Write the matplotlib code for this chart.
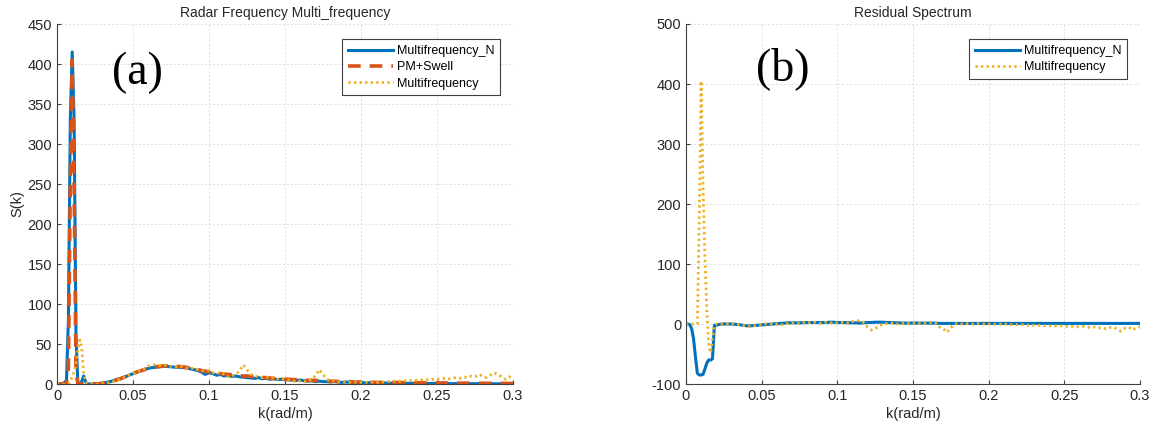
import numpy as np
import matplotlib
matplotlib.use('Agg')
import matplotlib.pyplot as plt

# wavenumber samples: fine around the swell peak, coarser after
k_peak = np.arange(21) * 0.00125          # 0 .. 0.025
k_tail = 0.0275 + np.arange(110) * 0.0025  # 0.0275 .. 0.3

# (a) spectra, peak region
multi_n_peak = [0, 0, 0, 0.5, 2, 5, 80, 330, 415, 330, 60, 0, 0, 3, 10, 3, 0, 0, 0, 0, 0.3]
pm_swell_peak = [0, 0, 0, 0, 0, 2, 20, 250, 405, 250, 15, 0, 0, 0, 0, 0, 0, 0, 0, 0, 0.2]
multi_peak = [0, 0, 0, 0, 0, 0, 0, 3, 10, 15, 25, 45, 55, 45, 15, 3, 0, 0, 0, 0, 0]

# (a) spectra, tail (rows of 10 samples)
multi_n_tail = [
    0.5, 1, 2, 3, 4.5, 6, 7.5, 9, 11, 13,
    15, 16.5, 18, 19.5, 20.5, 21, 21.5, 22, 22, 21.5,
    21, 21, 20.5, 20, 19, 18, 17, 15, 12, 14,
    13, 11, 12, 10, 11, 9.5, 10, 9, 8.5, 8,
    7.5, 7, 8, 6.5, 7, 6, 6.5, 5.5, 6, 5.5,
    5, 5, 4.5, 5, 4, 3.5, 4, 3, 3.5, 3,
    3, 2.5, 3, 2.5, 2, 2.5, 2, 2, 1.5, 2,
    1.5, 1.5, 2, 1.5, 1, 1.5, 1, 1, 1.5, 1,
    1, 0.8, 1, 0.5, 0.8, 1, 0.6, 0.5, 0.8, 0.5,
    0.5, 0.8, 0.5, 0.3, 0.6, 0.5, 0.3, 0.5, 0.4, 0.3,
    0.5, 0.3, 0.4, 0.5, 0.3, 0.2, 0.4, 0.3, 0.3, 0.3,
]
pm_swell_tail = [
    0.3, 0.8, 1.5, 2.5, 4, 5.5, 7, 9, 11, 13,
    15, 16.5, 18, 19.5, 20.5, 21.5, 22, 22.5, 22.5, 22.5,
    22, 22, 21.5, 21, 20, 19, 18, 17, 16, 15,
    14.5, 14, 13, 12.5, 12, 11.5, 11, 10.5, 10, 10,
    9.5, 9, 8.5, 8, 8, 7.5, 7, 7, 6.5, 6,
    6, 5.5, 5.5, 5, 5, 4.5, 4.5, 4.5, 4, 4,
    4, 3.5, 3.5, 3, 3, 3, 3, 2.5, 2.5, 2.5,
    2.5, 2.5, 2, 2, 2, 2, 2, 2, 1.8, 1.8,
    1.8, 1.7, 1.7, 1.6, 1.5, 1.5, 1.5, 1.4, 1.4, 1.3,
    1.3, 1.2, 1.2, 1.2, 1.1, 1.1, 1, 1, 1, 1,
    1, 0.9, 0.9, 0.9, 0.8, 0.8, 0.8, 0.8, 0.7, 0.7,
]
multi_tail = [
    0, 0.5, 1, 2, 3.5, 5, 7, 8.5, 11, 13,
    16, 17, 19, 22, 24, 24, 23, 24, 23, 22,
    22, 21, 22, 20, 19, 20, 18, 17, 16, 17,
    14, 15, 12, 13, 9, 10, 12, 16, 24, 18,
    12, 10, 9, 8, 9, 7, 8, 6, 7, 6,
    5, 4, 3, 4, 3, 3, 6, 10, 18, 12,
    6, 4, 4, 3, 3, 2, 2, 2.5, 2, 2,
    2, 2, 2.5, 2, 2, 2.5, 3, 3, 3.5, 3.5,
    4, 4, 4.5, 4, 5, 5, 5.5, 5, 6, 6,
    6, 7, 6.5, 7, 8, 7, 9, 8, 10, 9,
    12, 10, 8, 11, 14, 12, 9, 6, 9, 7,
]

# (b) residual spectra
res_n_peak = [0, 0, -1, -8, -25, -55, -82, -85, -85, -84, -75, -65, -60, -60, -58, -2, -2, -1, -0.5, 0, 0]
res_multi_peak = [0, 0, 0, 0, 0, 0, 0, 170, 405, 230, 110, 25, -35, -48, -25, -2, 0, 0, 0.5, 0, 0]
res_n_tail = [
    0, 0, -0.5, -1, -2, -3, -3, -2.5, -2, -1.5,
    -1, -0.5, 0, 0.5, 1, 1.5, 2, 2, 2, 2,
    2, 2.5, 2.5, 2.5, 2.5, 2.5, 2.5, 3, 3, 2.5,
    2.5, 2.5, 2, 2, 2, 1.5, 2, 2.5, 2.5, 3,
    3, 3, 2.5, 2.5, 2, 2, 1.5, 1.5, 1.5, 1.5,
    1.5, 1.5, 1.5, 1.5, 1.5, 1.5, 1, 1, 1, 1,
] + [1] * 50
res_multi_tail = [
    0, 1, 0, -1, -2, -3, -4, -3, -2, -1,
    0, 1, -1, 0, -2, 0, 1, 2, 2, 1,
    2, 3, 2, 3, 2, 1, 3, 2, 1, 2,
    3, 2, 1, 4, 6, 5, 2, -5, -10, -8,
    -3, -1, 1, 2, 1, 0, 1, 0, 1, 1,
    2, 1, 1, 2, 3, 2, -5, -8, -14, -6,
    0, 1, 0, 1, 0, 0, 1, 0, 0, 0,
    0, -0.5, 0, -1, 0, -1, -1, -1.5, -1, -2,
    -2, -2, -2.5, -2, -3, -3, -3, -3.5, -3, -4,
    -4, -4, -4.5, -5, -4, -5, -6, -5, -7, -6,
    -8, -6, -5, -9, -12, -7, -5, -10, -6, -5,
]

BLUE = '#0072BD'
ORANGE = '#D95319'
YELLOW = '#EDB120'

plt.rcParams['font.family'] = ['Liberation Sans', 'DejaVu Sans']
plt.rcParams['axes.unicode_minus'] = False

k = np.concatenate([k_peak, k_tail])


def style_axes(ax, ylim, yticks, title):
    ax.set_xlim(0, 0.3)
    ax.set_ylim(*ylim)
    ax.set_xticks([0, 0.05, 0.1, 0.15, 0.2, 0.25, 0.3])
    ax.set_xticklabels(['0', '0.05', '0.1', '0.15', '0.2', '0.25', '0.3'])
    ax.set_yticks(yticks)
    ax.grid(True, color='#dcdcdc', linestyle=(0, (2, 2)), linewidth=0.7)
    ax.set_axisbelow(True)
    for side in ('top', 'right'):
        ax.spines[side].set_visible(False)
    for side in ('left', 'bottom'):
        ax.spines[side].set_color('#404040')
        ax.spines[side].set_linewidth(0.8)
    ax.tick_params(direction='in', length=3, labelsize=10.5, colors='#404040',
                   labelcolor='#262626')
    ax.set_title(title, fontsize=10, pad=5, color='#262626')
    ax.set_xlabel('k(rad/m)', fontsize=10.5, color='#262626', labelpad=3)


def add_legend(ax):
    leg = ax.legend(loc='upper right', bbox_to_anchor=(0.985, 0.975), fontsize=9,
                    fancybox=False, framealpha=1, edgecolor='#404040',
                    handlelength=3.6, borderpad=0.45, labelspacing=0.35,
                    handletextpad=0.3)
    leg.get_frame().set_linewidth(0.8)
    return leg


fig = plt.figure(figsize=(11.57, 4.3), dpi=100)
ax1 = fig.add_axes([57 / 1157, 46 / 430, 456 / 1157, 360 / 430])
ax2 = fig.add_axes([686 / 1157, 46 / 430, 454 / 1157, 360 / 430])

ax1.plot(k, np.concatenate([multi_n_peak, multi_n_tail]), color=BLUE, lw=2.2,
         label='Multifrequency_N')
ax1.plot(k, np.concatenate([pm_swell_peak, pm_swell_tail]), color=ORANGE, lw=2.6,
         linestyle=(0, (3.5, 2.5)), label='PM+Swell')
ax1.plot(k, np.concatenate([multi_peak, multi_tail]), color=YELLOW, lw=2,
         linestyle=(0, (0.8, 1.2)), label='Multifrequency')
style_axes(ax1, (0, 450), np.arange(0, 451, 50), 'Radar Frequency Multi_frequency')
ax1.set_ylabel('S(k)', fontsize=10.5, color='#262626', labelpad=2)
add_legend(ax1)
ax1.text(0.177, 0.865, '(a)', transform=ax1.transAxes, fontsize=33,
         family='Liberation Serif', ha='center', va='center')

ax2.plot(k, np.concatenate([res_n_peak, res_n_tail]), color=BLUE, lw=2.2,
         label='Multifrequency_N')
ax2.plot(k, np.concatenate([res_multi_peak, res_multi_tail]), color=YELLOW, lw=2,
         linestyle=(0, (0.8, 1.2)), label='Multifrequency')
style_axes(ax2, (-100, 500), np.arange(-100, 501, 100), 'Residual Spectrum')
add_legend(ax2)
ax2.text(0.214, 0.877, '(b)', transform=ax2.transAxes, fontsize=33,
         family='Liberation Serif', ha='center', va='center')

fig.savefig('out.png', dpi=100)
